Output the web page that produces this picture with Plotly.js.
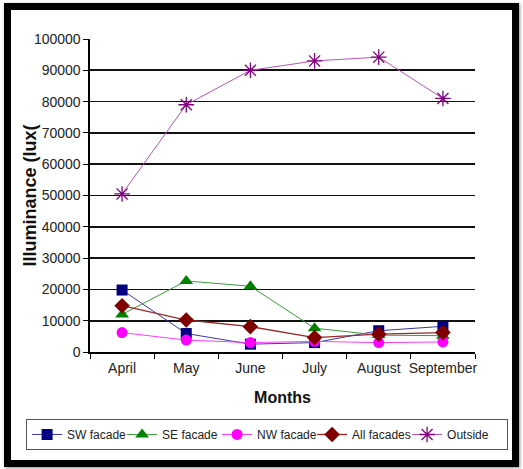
<!DOCTYPE html>
<html>
<head>
<meta charset="utf-8">
<script src="https://cdn.plot.ly/plotly-3.0.1.min.js"></script>
<style>
  html, body { margin: 0; padding: 0; background: #fff; }
  #wrap { position: relative; width: 523px; height: 469px; overflow: hidden; }
  #chart { position: absolute; left: 0; top: 0; width: 523px; height: 469px; }
  #frame {
    position: absolute; left: 4px; top: 3px; width: 515px; height: 464px;
    box-sizing: border-box; border: 7px solid #000;
    box-shadow: 1px 1px 3px rgba(0,0,0,0.45);
    pointer-events: none;
  }
</style>
</head>
<body>
<div id="wrap">
  <div id="chart"></div>
  <div id="frame"></div>
</div>
<script>
// Monthly illuminance readings (lux)
const months = ["April", "May", "June", "July", "August", "September"];
const swFacade  = [19800, 5900, 2500, 3000, 6800, 8200];
const seFacade  = [12000, 22700, 21000, 7600, 5400, 5200];
const nwFacade  = [6200, 3800, 3000, 3400, 3000, 3200];
const allFacades = [14800, 10200, 8100, 4600, 5700, 6200];
const outside   = [50500, 79000, 90000, 93000, 94200, 81000];
const yTicks = [0, 10000, 20000, 30000, 40000, 50000, 60000, 70000, 80000, 90000, 100000];

const sans = "Liberation Sans, Arial, sans-serif";

function series(name, y, lineColor, markerColor, symbol, size, lw) {
  return {
    type: "scatter", mode: "lines+markers", name: name,
    x: months, y: y,
    line: { color: lineColor, width: lw },
    marker: { symbol: symbol, size: size, color: markerColor,
              line: { color: markerColor, width: symbol === "asterisk-open" ? 1.3 : 0 } }
  };
}

const traces = [
  series("SW facade", swFacade, "#3a3aa6", "#000080", "square", 11, 1),
  series("SE facade", seFacade, "#3a9a3a", "#008000", "triangle-up", 12, 1),
  series("NW facade", nwFacade, "#ff3cff", "#ff00ff", "circle", 11, 1),
  series("All facades", allFacades, "#9a2a2a", "#800000", "diamond", 12, 1.4),
  series("Outside", outside, "#b455b4", "#800080", "asterisk-open", 13, 1)
];

const layout = {
  width: 523, height: 469,
  margin: { l: 90, r: 48, t: 39, b: 117 },
  paper_bgcolor: "#fff", plot_bgcolor: "#fff",
  showlegend: true,
  legend: {
    orientation: "h", x: -0.166, y: -0.214, xanchor: "left", yanchor: "top",
    bordercolor: "#555", borderwidth: 1, bgcolor: "#fff",
    font: { family: sans, size: 12, color: "#222" },
    itemwidth: 30, tracegroupgap: 0,
    entrywidthmode: "fraction", entrywidth: 0.2
  },
  xaxis: {
    type: "category",
    range: [-0.5, 5.5],
    showgrid: false, zeroline: false,
    showline: true, linecolor: "#000", linewidth: 1.6,
    ticks: "outside", ticklen: 5, tickcolor: "#000", tickwidth: 1,
    tickson: "boundaries", tickangle: 0, ticklabelstandoff: 3,
    tickfont: { family: sans, size: 14, color: "#222" },
    title: { text: "Months", font: { family: sans, size: 16, color: "#111", weight: "bold" }, standoff: 16 },
    automargin: false
  },
  yaxis: {
    range: [0, 100000],
    tickvals: yTicks, ticktext: yTicks.map(String),
    showgrid: true, gridcolor: "#111", gridwidth: 1.7,
    zeroline: false,
    showline: true, linecolor: "#000", linewidth: 1.6,
    ticks: "outside", ticklen: 5, tickcolor: "#000", tickwidth: 1,
    tickfont: { family: sans, size: 14, color: "#222" },
    title: { text: "Illuminance (lux(", font: { family: sans, size: 18, color: "#111", weight: "bold" } },
    automargin: false
  }
};

Plotly.newPlot("chart", traces, layout, { staticPlot: true, displayModeBar: false });
</script>
</body>
</html>
